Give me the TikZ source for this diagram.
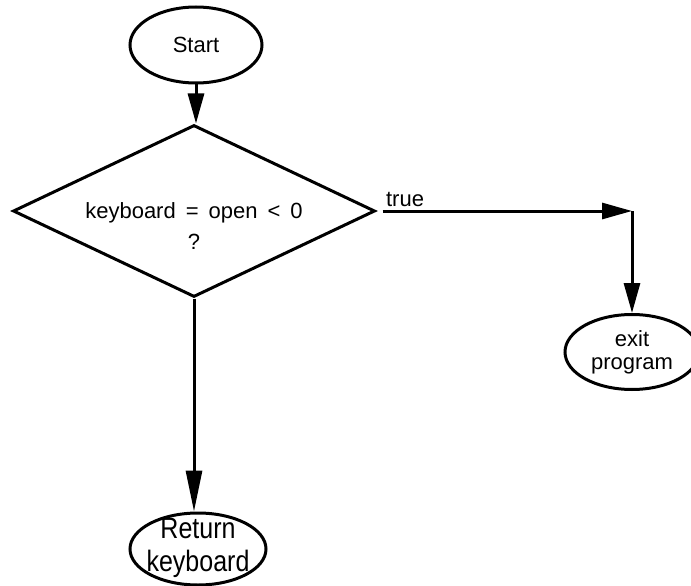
\documentclass[tikz,border=0pt]{standalone}
\usepackage{fontspec}
\setmainfont{Liberation Sans}
\usetikzlibrary{shapes.geometric,arrows.meta}

\tikzset{
  term/.style={draw, ellipse, line width=3pt, inner sep=0pt, align=center,
    font=\fontsize{22}{23}\selectfont},
  decision/.style={draw, diamond, line width=3pt, inner sep=0pt},
  flow/.style={line width=3pt, -{Triangle[length=30pt,width=16pt]}},
  longflow/.style={line width=3pt, -{Triangle[length=41pt,width=16pt]}},
  plain/.style={font=\fontsize{22}{31}\selectfont, align=center, inner sep=0pt}
}

\begin{document}
\begin{tikzpicture}[x=1pt,y=-1pt]
  \useasboundingbox (0,0) rectangle (691,586);

  % terminals
  \node[term, minimum width=132pt, minimum height=76pt] (start) at (196,45) {Start};
  \node[term, minimum width=134pt, minimum height=75pt] (exit) at (632,352) {exit\\program};
  \node[term, minimum width=136pt, minimum height=72pt] (ret) at (198,549) {};
  \node[inner sep=0pt, font=\fontsize{25}{33}\selectfont] (rettext) at (198,547)
    {\scalebox{1}[1.18]{\begin{tabular}{@{}c@{}}Return\\[-5pt]keyboard\end{tabular}}};

  % decision
  \node[decision, minimum width=362pt, minimum height=172pt, aspect=2.1] (dec) at (194,211) {};
  \node[plain] (dectext) at (194,226) {\spaceskip=10pt keyboard = open < 0\\?};

  % connectors
  \coordinate (bend) at (exit.north |- dec.east);
  \draw[flow] (start) -- (start |- dec.north);
  \draw[flow, shorten <=6pt] (dec.east) -- node[pos=0.02, above right, inner sep=3pt,
    font=\fontsize{22}{26}\selectfont] (truelbl) {true} (bend);
  \draw[flow] (bend) -- (exit.north);
  \draw[longflow] (dec.south) -- (dec.south |- ret.north);
\end{tikzpicture}
\end{document}
